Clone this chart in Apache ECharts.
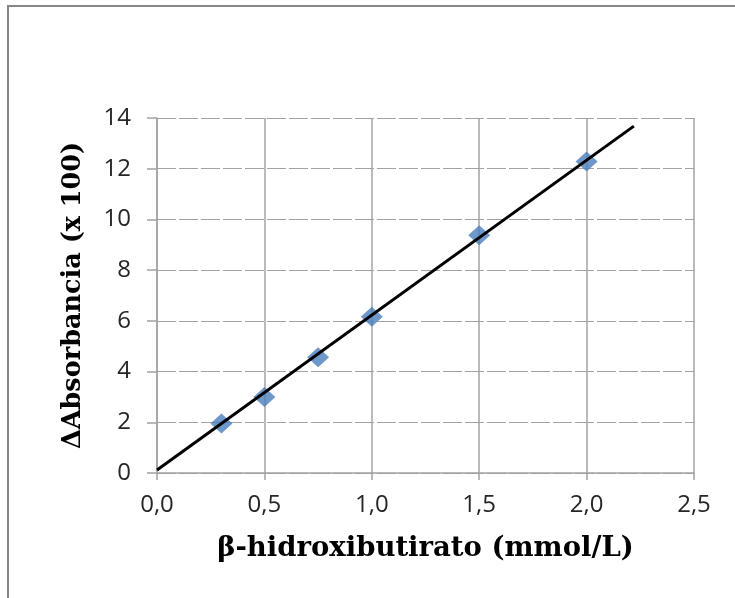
<!DOCTYPE html>
<html>
<head>
<meta charset="utf-8">
<script src="https://cdn.jsdelivr.net/npm/echarts@6/dist/echarts.min.js"></script>
<style>
  html, body { margin: 0; padding: 0; background: #fff; }
  #chart { width: 735px; height: 598px; }
</style>
</head>
<body>
<div id="chart"></div>
<script>
// valores
const concentration = [0.3, 0.5, 0.75, 1.0, 1.5, 2.0];
const absorbance = [1.95, 3.0, 4.56, 6.16, 9.38, 12.28];
// línea de tendencia (extremos)
const trendX = [0, 2.22];
const trendY = [0.12, 13.68];

const gridColor = '#a3a3a3';
const labelFont = '"Open Sans", sans-serif';
const titleFont = '"DejaVu Serif", serif';

const chart = echarts.init(document.getElementById('chart'));
chart.setOption({
  animation: false,
  graphic: [{
    type: 'polyline',
    shape: { points: [[8, 640], [8, 6], [780, 6]] },
    style: { fill: 'none', stroke: '#878787', lineWidth: 2 },
    silent: true
  }],
  grid: { left: 157, top: 118, right: 41, bottom: 125 },
  xAxis: {
    type: 'value',
    min: 0, max: 2.5, interval: 0.5,
    name: 'β-hidroxibutirato (mmol/L)',
    nameLocation: 'middle',
    nameGap: 62,
    nameTextStyle: { fontFamily: titleFont, fontWeight: 'bold', fontSize: 27.5, color: '#000' },
    axisLine: { show: true, lineStyle: { color: gridColor, width: 1.5 } },
    axisTick: { show: true, length: 7, lineStyle: { color: gridColor, width: 1.5 } },
    axisLabel: {
      fontFamily: labelFont, fontSize: 24, color: '#262626', margin: 20,
      formatter: v => v.toFixed(1).replace('.', ',')
    },
    splitLine: { show: true, lineStyle: { color: gridColor, width: 1.5 } }
  },
  yAxis: {
    type: 'value',
    min: 0, max: 14, interval: 2,
    name: 'ΔAbsorbancia (x 100)',
    nameLocation: 'middle',
    nameGap: 71,
    nameTextStyle: { fontFamily: titleFont, fontWeight: 'bold', fontSize: 25.5, color: '#000' },
    axisLine: { show: true, lineStyle: { color: gridColor, width: 1.5 } },
    axisTick: { show: true, length: 10, lineStyle: { color: gridColor, width: 1.5 } },
    axisLabel: { fontFamily: labelFont, fontSize: 24, color: '#262626', margin: 26 },
    splitLine: { show: true, lineStyle: { color: gridColor, width: 1.2, type: [19, 3] } }
  },
  series: [
    {
      type: 'scatter',
      symbol: 'diamond',
      symbolSize: [22, 20],
      itemStyle: { color: '#4a7ebb' },
      data: concentration.map((c, i) => [c, absorbance[i]]),
      z: 2
    },
    {
      type: 'line',
      showSymbol: false,
      lineStyle: { color: '#000', width: 3 },
      data: trendX.map((x, i) => [x, trendY[i]]),
      z: 3
    }
  ]
});
</script>
</body>
</html>
